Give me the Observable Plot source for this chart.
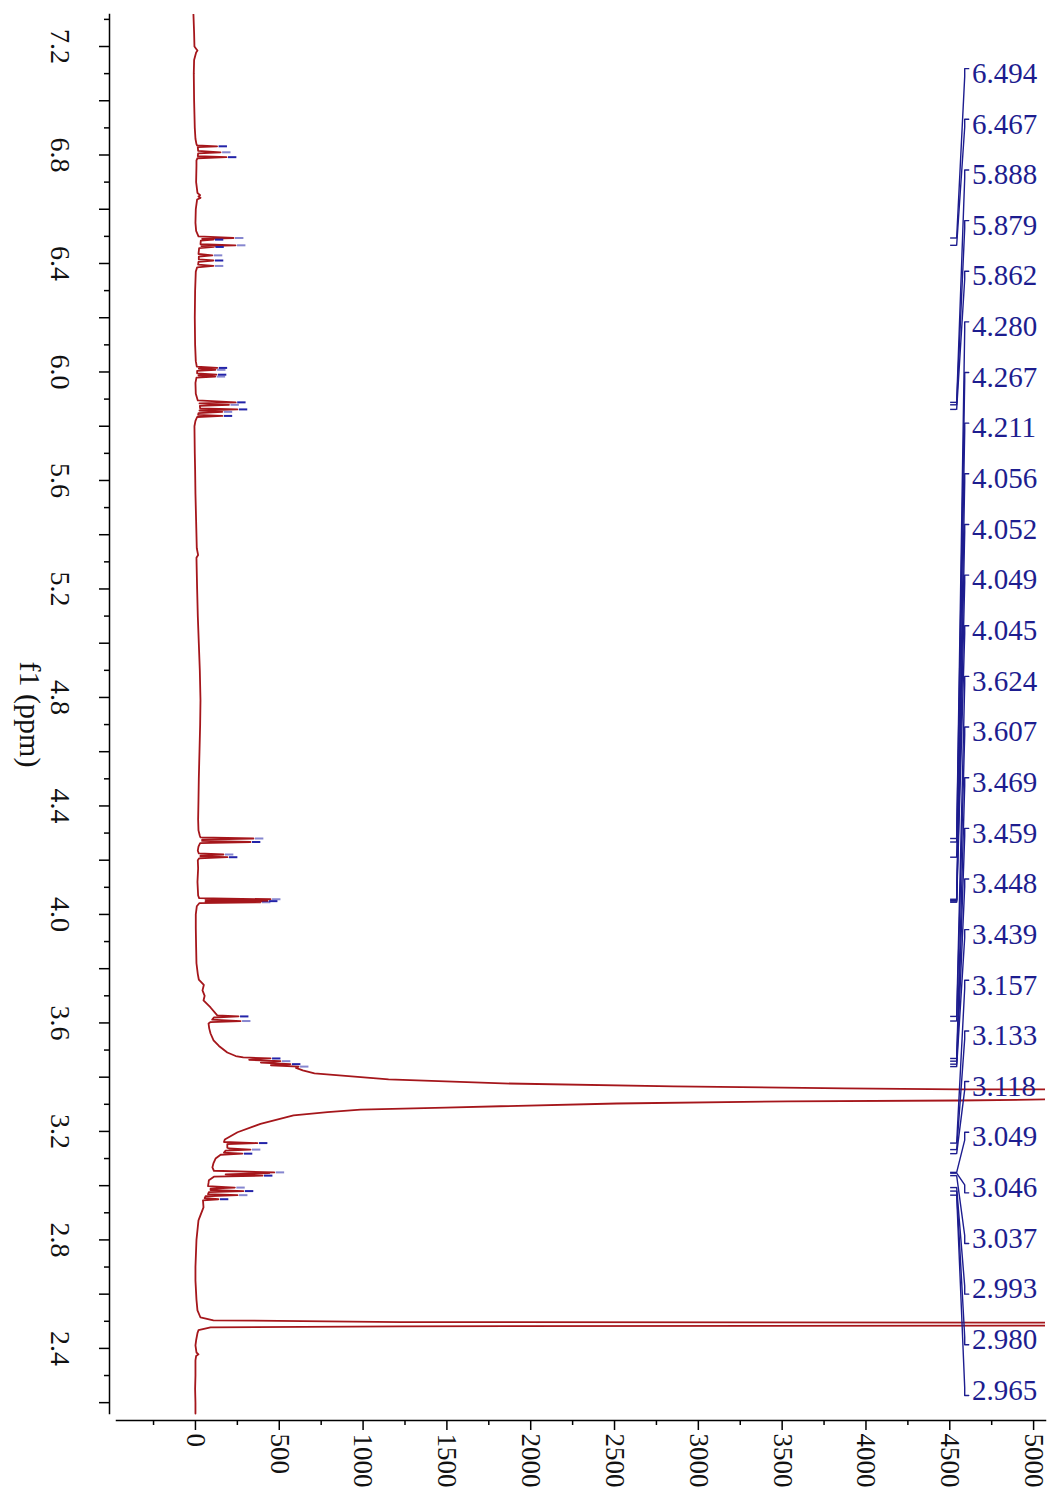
<!DOCTYPE html>
<html><head><meta charset="utf-8">
<script src="https://cdn.jsdelivr.net/npm/d3@7"></script>
<script src="https://cdn.jsdelivr.net/npm/@observablehq/plot@0.6"></script>
<style>
html,body{margin:0;padding:0;background:#fff;}
svg{display:block;}
</style></head><body>
<script>
// ---- data (ppm, intensity) ----
const spectrum = [
 [7.318,-12],[7.25,-8],[7.200,-6],[7.190,6],[7.185,12],[7.178,4],[7.15,-8],[7.10,-10],[7.00,-8],[6.95,-6],
 [6.90,-4],[6.86,0],[6.840,6],[6.835,10],[6.832,129],[6.829,14],[6.815,16],[6.810,150],[6.806,16],[6.796,14],
 [6.792,185],[6.788,12],[6.78,6],[6.76,6],[6.70,4],[6.66,12],[6.652,28],[6.647,18],[6.642,30],[6.636,10],
 [6.60,2],[6.55,0],[6.52,4],[6.500,18],[6.494,227],[6.491,40],[6.488,107],[6.484,32],[6.471,30],[6.467,239],
 [6.464,36],[6.461,110],[6.457,22],[6.435,18],[6.430,101],[6.425,20],[6.415,20],[6.411,107],[6.406,18],[6.396,16],
 [6.391,107],[6.386,10],[6.37,2],[6.30,-2],[6.20,-4],[6.10,-2],[6.04,2],[6.02,8],[6.015,130],[6.012,20],
 [6.008,120],[6.004,10],[5.995,10],[5.990,125],[5.987,18],[5.983,118],[5.979,6],[5.96,0],[5.92,2],[5.895,14],
 [5.888,240],[5.884,24],[5.879,200],[5.875,26],[5.866,28],[5.862,250],[5.858,24],[5.853,160],[5.848,18],[5.842,16],
 [5.838,160],[5.834,10],[5.82,0],[5.80,-6],[5.70,-4],[5.64,-2],[5.55,0],[5.45,4],[5.35,8],[5.325,16],
 [5.315,6],[5.20,10],[5.10,14],[5.00,20],[4.90,26],[4.79,30],[4.70,28],[4.60,24],[4.50,20],[4.42,18],
 [4.35,16],[4.31,18],[4.290,26],[4.284,30],[4.280,346],[4.276,40],[4.271,40],[4.267,328],[4.263,28],[4.250,18],
 [4.235,14],[4.225,20],[4.221,167],[4.217,30],[4.214,30],[4.211,191],[4.207,22],[4.200,14],[4.170,16],[4.12,12],
 [4.07,16],[4.060,22],[4.056,448],[4.054,60],[4.052,400],[4.050,70],[4.049,430],[4.047,60],[4.045,388],[4.042,24],
 [4.03,8],[4.00,2],[3.95,2],[3.88,4],[3.82,6],[3.78,14],[3.76,20],[3.74,50],[3.72,42],[3.70,55],
 [3.683,48],[3.657,90],[3.635,120],[3.628,130],[3.624,257],[3.620,110],[3.612,100],[3.607,269],[3.603,90],[3.598,78],
 [3.58,82],[3.561,90],[3.536,108],[3.515,140],[3.491,190],[3.478,240],[3.473,285],[3.469,448],[3.464,320],[3.459,507],
 [3.454,390],[3.448,567],[3.444,450],[3.439,615],[3.434,600],[3.425,640],[3.414,710],[3.392,1152],[3.377,1832],[3.366,2852],
 [3.359,3873],[3.355,4553],[3.336,40000],[3.318,5096],[3.314,4553],[3.311,3532],[3.303,2512],[3.288,1492],[3.280,985],[3.271,788],
 [3.259,585],[3.228,388],[3.197,251],[3.170,175],[3.161,170],[3.157,370],[3.153,190],[3.140,190],[3.137,200],[3.133,328],
 [3.129,180],[3.122,170],[3.118,280],[3.114,150],[3.100,120],[3.082,107],[3.067,101],[3.055,110],[3.049,470],[3.0475,380],
 [3.046,440],[3.042,180],[3.037,400],[3.033,110],[3.020,80],[3.010,78],[2.998,75],[2.993,235],[2.989,90],[2.984,90],
 [2.980,286],[2.976,80],[2.969,75],[2.965,251],[2.961,60],[2.954,55],[2.950,137],[2.946,45],[2.920,48],[2.872,18],
 [2.80,6],[2.70,0],[2.65,0],[2.58,6],[2.540,12],[2.514,30],[2.5036,107],[2.497,1223],[2.4947,5072],[2.489,40000],
 [2.4839,5072],[2.4814,1223],[2.4777,90],[2.467,18],[2.4565,12],[2.43,4],[2.411,0],[2.385,6],[2.378,18],[2.372,4],
 [2.356,0],[2.30,0],[2.25,-2],[2.20,0],[2.160,0]
];
// picked peaks (ppm, top intensity) marked with blue dashes
const pickPpm =    [6.832,6.810,6.792,6.494,6.488,6.467,6.461,6.430,6.411,6.391,6.015,6.008,5.990,5.983,5.888,5.879,5.862,5.853,5.838,
                    4.280,4.267,4.221,4.211,4.056,4.049,4.045,3.624,3.607,3.469,3.459,3.448,3.439,3.157,3.133,3.118,3.049,3.037,2.993,2.980,2.965,2.950];
const pickHeight = [129,150,185,227,107,239,110,101,107,107,130,120,125,118,240,200,250,160,160,
                    346,328,167,191,448,430,388,257,269,448,507,567,615,370,328,280,470,400,235,286,251,137];
// peak label list (right column)
const peakLabels = [6.494,6.467,5.888,5.879,5.862,4.280,4.267,4.211,4.056,4.052,4.049,4.045,3.624,3.607,
                    3.469,3.459,3.448,3.439,3.157,3.133,3.118,3.049,3.046,3.037,2.993,2.980,2.965];
// axis ticks
const ppmTickLabels = [7.2,6.8,6.4,6.0,5.6,5.2,4.8,4.4,4.0,3.6,3.2,2.8,2.4];
const ppmMajorTicks = [7.2,7.0,6.8,6.6,6.4,6.2,6.0,5.8,5.6,5.4,5.2,5.0,4.8,4.6,4.4,4.2,4.0,3.8,3.6,3.4,3.2,3.0,2.8,2.6,2.4,2.2];
const ppmMinorTicks = [7.3,7.1,6.9,6.7,6.5,6.3,6.1,5.9,5.7,5.5,5.3,5.1,4.9,4.7,4.5,4.3,4.1,3.9,3.7,3.5,3.3,3.1,2.9,2.7,2.5,2.3];
const intensityTickLabels = [0,500,1000,1500,2000,2500,3000,3500,4000,4500,5000];
const intensityMinorTicks = [-250,250,750,1250,1750,2250,2750,3250,3750,4250,4750];
const axisTitle = "f1 (ppm)";

// ---- layout ----
const red = "#a5161b", blue = "#1d1d8f";
const specData = spectrum.map(([p, v]) => ({p, v}));
const picks = pickPpm.map((p, i) => ({p, h: pickHeight[i], i}));
const slotTop = 7.10, slotBottom = 2.245;
const rows = peakLabels.map((p, i) => ({p, i, slot: slotTop - i * (slotTop - slotBottom) / (peakLabels.length - 1)}));
const tickStart = 4505, tickEnd = 4541, elbowX = 4589, hookX = 4613, textX = 4632;
const leaders = rows.flatMap(d => {
  const s = d.slot > d.p ? 1 : -1;
  return [
    {i: d.i, x: tickEnd, y: d.p},
    {i: d.i, x: elbowX, y: d.slot - s * 0.011},
    {i: d.i, x: elbowX, y: d.slot + s * 0.0184},
    {i: d.i, x: hookX, y: d.slot + s * 0.0184}
  ];
});

const chart = Plot.plot({
  width: 1051,
  height: 1495,
  marginLeft: 109,
  marginRight: 6,
  marginTop: 14,
  marginBottom: 75,
  x: {domain: [-471, 5071], range: [116, 1045], label: null},
  y: {domain: [7.318, 2.160], range: [14, 1413], label: null},
  style: {fontFamily: "'Liberation Serif', 'Times New Roman', serif", background: "#fff", color: "#000"},
  marks: [
    // axis lines
    Plot.frame({anchor: "left", insetBottom: 7, strokeWidth: 1.5}),
    Plot.frame({anchor: "bottom", insetLeft: 7, strokeWidth: 1.5}),
    // ticks (no text)
    Plot.axisY(ppmMajorTicks, {anchor: "left", tickSize: 10, strokeWidth: 1.5, fill: "none", tickFormat: () => ""}),
    Plot.axisY(ppmMinorTicks, {anchor: "left", tickSize: 5, strokeWidth: 1.5, fill: "none", tickFormat: () => ""}),
    Plot.axisX(intensityTickLabels, {anchor: "bottom", tickSize: 10, strokeWidth: 1.5, fill: "none", tickFormat: () => ""}),
    Plot.axisX(intensityMinorTicks, {anchor: "bottom", tickSize: 5, strokeWidth: 1.5, fill: "none", tickFormat: () => ""}),
    // tick labels (rotated like the reference)
    Plot.text(ppmTickLabels, {y: d => d, text: d => d.toFixed(1), frameAnchor: "left", dx: -50, rotate: 90,
      textAnchor: "middle", lineAnchor: "middle", fontSize: 28, fill: "#111"}),
    Plot.text(intensityTickLabels, {x: d => d, text: d => String(d), frameAnchor: "bottom", dy: 13, dx: 0, rotate: 90,
      textAnchor: "start", lineAnchor: "middle", fontSize: 27, fill: "#111"}),
    Plot.text([axisTitle], {text: d => d, frameAnchor: "left", dx: -80, dy: -3, rotate: 90,
      textAnchor: "middle", lineAnchor: "middle", fontSize: 30, fill: "#111"}),
    // spectrum
    Plot.line(specData, {x: "v", y: "p", stroke: red, strokeWidth: 1.8, curve: "linear", clip: true}),
    // peak-pick dashes
    Plot.ruleY(picks, {y: "p", x1: d => d.h + 12, x2: d => d.h + 62, stroke: "#2323a8",
      strokeOpacity: d => d.i % 2 ? 0.55 : 1, strokeWidth: 2}),
    // label leaders
    Plot.ruleY(rows, {y: "p", x1: tickStart, x2: tickEnd, stroke: blue, strokeWidth: 1.4}),
    Plot.line(leaders, {x: "x", y: "y", z: "i", stroke: blue, strokeWidth: 1.4, curve: "linear"}),
    Plot.text(rows, {x: () => textX, y: "slot", text: d => d.p.toFixed(3), textAnchor: "start", lineAnchor: "middle",
      fontSize: 29, fill: blue})
  ]
});
document.body.appendChild(chart);
</script>
</body></html>
